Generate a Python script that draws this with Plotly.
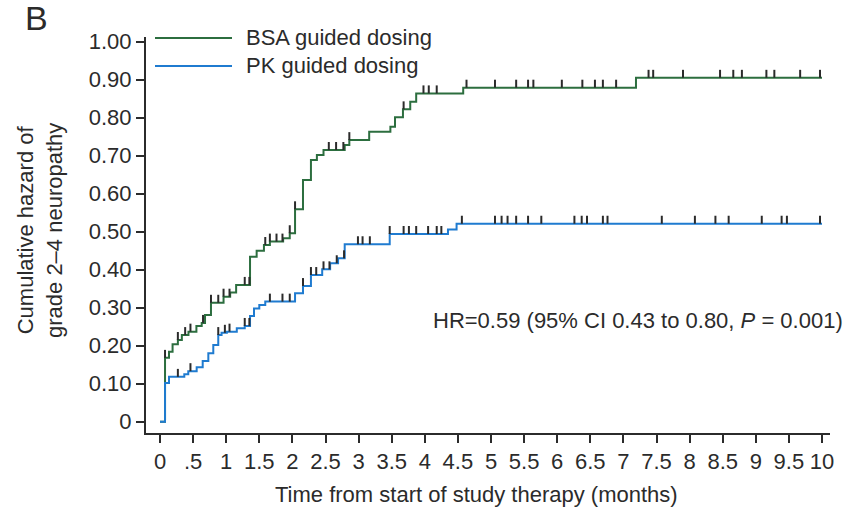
import numpy as np
import plotly.graph_objects as go

# ---------------- data ----------------
x_tickvals = [0, 0.5, 1, 1.5, 2, 2.5, 3, 3.5, 4, 4.5, 5, 5.5, 6, 6.5, 7, 7.5, 8, 8.5, 9, 9.5, 10]
x_ticktext = ["0", ".5", "1", "1.5", "2", "2.5", "3", "3.5", "4", "4.5", "5", "5.5",
              "6", "6.5", "7", "7.5", "8", "8.5", "9", "9.5", "10"]
y_tickvals = [0, 0.1, 0.2, 0.3, 0.4, 0.5, 0.6, 0.7, 0.8, 0.9, 1.0]
y_ticktext = ["0", "0.10", "0.20", "0.30", "0.40", "0.50", "0.60", "0.70", "0.80", "0.90", "1.00"]

# BSA guided dosing: event times (months) and cumulative hazard after each step
bsa_t = [0.076, 0.136, 0.19, 0.27, 0.33, 0.43, 0.55, 0.63, 0.68, 0.77, 0.96, 1.06, 1.15,
         1.36, 1.46, 1.57, 1.66, 1.86, 1.96, 2.04, 2.16, 2.28, 2.37, 2.47, 2.79, 2.86,
         3.16, 3.48, 3.55, 3.67, 3.78, 3.87, 4.58, 7.19]
bsa_h = [0.168, 0.184, 0.204, 0.215, 0.228, 0.237, 0.252, 0.260, 0.281, 0.313, 0.329, 0.340,
         0.360, 0.434, 0.450, 0.465, 0.474, 0.483, 0.496, 0.559, 0.636, 0.689, 0.702, 0.715,
         0.728, 0.741, 0.763, 0.776, 0.801, 0.822, 0.842, 0.864, 0.879, 0.905]
bsa_censor = [0.076, 0.27, 0.38, 0.46, 0.65, 0.77, 0.88, 0.96, 1.05, 1.28, 1.35, 1.59, 1.66,
              1.76, 1.85, 1.96, 2.04, 2.55, 2.66, 2.77, 2.86, 3.68, 3.98, 4.06, 4.18, 4.63,
              5.06, 5.38, 5.56, 5.64, 6.07, 6.38, 6.57, 6.69, 6.89, 7.38, 7.45, 7.90, 8.46,
              8.66, 8.79, 9.16, 9.28, 9.67, 9.97]

# PK guided dosing
pk_t = [0.076, 0.136, 0.367, 0.427, 0.554, 0.645, 0.73, 0.805, 0.88, 0.93, 1.01, 1.16, 1.28,
        1.36, 1.42, 1.50, 1.59, 2.04, 2.16, 2.28, 2.45, 2.57, 2.69, 2.79, 3.47, 4.35, 4.48]
pk_h = [0.102, 0.118, 0.125, 0.133, 0.143, 0.160, 0.180, 0.202, 0.228, 0.234, 0.237, 0.246,
        0.252, 0.278, 0.298, 0.307, 0.316, 0.338, 0.357, 0.386, 0.401, 0.417, 0.430, 0.467,
        0.494, 0.506, 0.521]
pk_censor = [0.27, 0.46, 0.88, 0.98, 1.05, 1.28, 1.35, 1.66, 1.85, 1.96, 2.16, 2.28, 2.36,
             2.47, 2.56, 2.67, 2.78, 2.99, 3.06, 3.17, 3.47, 3.68, 3.76, 3.87, 4.05, 4.18,
             4.25, 4.56, 5.06, 5.16, 5.25, 5.38, 5.56, 5.76, 6.26, 6.37, 6.45, 6.69, 6.76,
             7.58, 8.08, 8.39, 8.59, 9.09, 9.39, 9.47, 9.97]

t_end = 10.0
series_names = ["BSA guided dosing", "PK guided dosing"]
hr_text = "HR=0.59 (95% CI 0.43 to 0.80, <i>P</i> = 0.001)"

# ---------------- styling ----------------
GREEN = "#2c6e3f"
BLUE = "#1f7bd0"
DARK = "#2b2b2b"
FONT = "Liberation Sans, Arial, Helvetica, sans-serif"
W, H = 849, 508
L, R, T, B = 146, 830, 37, 433


def px(xp):
    return (xp - L) / (R - L)


def py(yp):
    return (B - yp) / (B - T)


def step_value(times, haz, t):
    idx = np.searchsorted(np.array(times), t, side="right") - 1
    return 0.0 if idx < 0 else haz[idx]


fig = go.Figure()

for times, haz, cens, color in [(bsa_t, bsa_h, bsa_censor, GREEN),
                                 (pk_t, pk_h, pk_censor, BLUE)]:
    xs = [0.0] + list(times) + [t_end]
    ys = [0.0] + list(haz) + [haz[-1]]
    fig.add_trace(go.Scatter(x=xs, y=ys, mode="lines", line=dict(color=color, width=2, shape="hv"),
                             showlegend=False, hoverinfo="skip"))
    cy = [step_value(times, haz, c) for c in cens]
    fig.add_trace(go.Scatter(x=cens, y=cy, mode="markers",
                             marker=dict(size=1, color="rgba(0,0,0,0)"),
                             error_y=dict(type="constant", value=0.021, valueminus=0, symmetric=False,
                                          width=0, thickness=2, color=DARK),
                             showlegend=False, hoverinfo="skip"))

# manual legend
for i, (name, color) in enumerate(zip(series_names, [GREEN, BLUE])):
    yl = 38 + 28 * i
    fig.add_shape(type="line", xref="paper", yref="paper", x0=px(155), x1=px(232),
                  y0=py(yl), y1=py(yl), line=dict(color=color, width=2))
    fig.add_annotation(xref="paper", yref="paper", x=px(244), y=py(yl), text=name,
                       showarrow=False, xanchor="left", yanchor="middle",
                       font=dict(family=FONT, size=22, color=DARK))

fig.add_annotation(xref="paper", yref="paper", x=px(845), y=py(320), text=hr_text,
                   showarrow=False, xanchor="right", yanchor="middle",
                   font=dict(family=FONT, size=22, color=DARK))

fig.add_annotation(xref="paper", yref="paper", x=px(36), y=py(18), text="B",
                   showarrow=False, xanchor="center", yanchor="middle",
                   font=dict(family=FONT, size=34, color=DARK))

fig.add_annotation(xref="paper", yref="paper", x=px(40), y=py(231),
                   text="Cumulative hazard of<br>grade 2\u20134 neuropathy",
                   showarrow=False, textangle=-90, xanchor="center", yanchor="middle",
                   font=dict(family=FONT, size=22, color=DARK))

fig.add_annotation(xref="paper", yref="paper", x=px(476), y=py(494),
                   text="Time from start of study therapy (months)",
                   showarrow=False, xanchor="center", yanchor="middle",
                   font=dict(family=FONT, size=22, color=DARK))

x0 = (L - 160) / 66.2
x1 = (R - 160) / 66.2
y0 = (421.7 - B) / 380
y1 = (421.7 - T) / 380

fig.update_layout(
    width=W, height=H,
    margin=dict(l=L, r=W - R, t=T, b=H - B),
    paper_bgcolor="white", plot_bgcolor="white",
    font=dict(family=FONT, size=22, color=DARK),
    xaxis=dict(range=[x0, x1], tickvals=x_tickvals, ticktext=x_ticktext,
               showline=True, linecolor=DARK, linewidth=2, ticks="outside", ticklen=8,
               tickwidth=2, tickcolor=DARK, showgrid=False, zeroline=False,
               tickfont=dict(family=FONT, size=22, color=DARK)),
    yaxis=dict(range=[y0, y1], tickvals=y_tickvals, ticktext=y_ticktext,
               showline=True, linecolor=DARK, linewidth=2, ticks="outside", ticklen=8,
               tickwidth=2, tickcolor=DARK, showgrid=False, zeroline=False,
               tickfont=dict(family=FONT, size=22, color=DARK)),
)

fig.write_html("out.html")
